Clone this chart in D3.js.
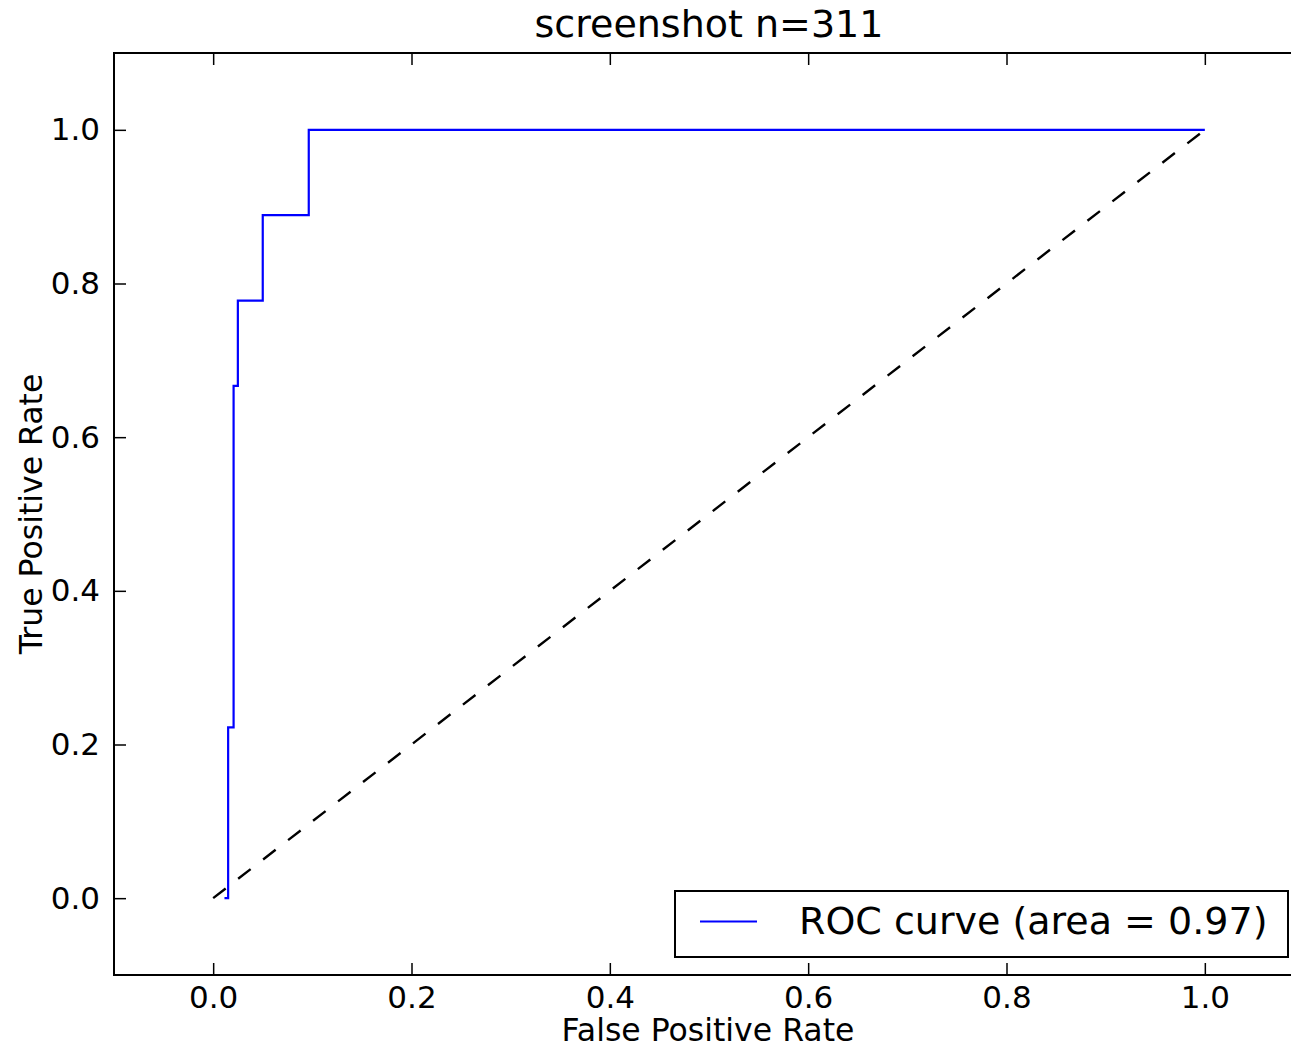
<!DOCTYPE html>
<html lang="en">
<head>
  <meta charset="UTF-8">
  <title>screenshot n=311</title>
  <script src="https://d3js.org/d3.v7.min.js"></script>
  <style>
    body { margin: 0; overflow: hidden; background: white; }
    text { font-family: 'DejaVu Sans', sans-serif; fill: #000; }
  </style>
</head>
<body>
<div id="chart"></div>
<script>
    // ROC points
    const fpr = [0.0114, 0.0151, 0.0151, 0.0206, 0.0206, 0.0249, 0.0249, 0.0500, 0.0500, 0.0964, 0.0964, 1.0];
    const tpr = [0.0, 0.0, 0.2222, 0.2222, 0.6667, 0.6667, 0.7778, 0.7778, 0.8889, 0.8889, 1.0, 1.0];
    const chanceX = [0, 1];
    const chanceY = [0, 1];
    const tickValues = [0.0, 0.2, 0.4, 0.6, 0.8, 1.0];
    const titleText = "screenshot n=311";
    const legendLabel = "ROC curve (area = 0.97)";

    const margin = { top: 53, right: 0, bottom: 72, left: 114 },
        width = 1190,
        height = 922;

    const root = d3.select("#chart")
        .append("svg")
        .attr("width", 1291)
        .attr("height", 1047);

    const svg = root.append("g")
        .attr("transform", `translate(${margin.left}, ${margin.top})`);

    const x = d3.scaleLinear().domain([-0.1, 1.1]).range([0, width]);
    const y = d3.scaleLinear().domain([-0.1, 1.1]).range([height, 0]);

    // chance diagonal
    const line = d3.line().x(d => x(d[0])).y(d => y(d[1]));
    svg.append("path")
        .datum(d3.zip(chanceX, chanceY))
        .attr("d", line)
        .attr("fill", "none")
        .attr("stroke", "#000")
        .attr("stroke-width", 2.4)
        .attr("stroke-dasharray", "15.8,15.8");

    // ROC curve
    svg.append("path")
        .datum(d3.zip(fpr, tpr))
        .attr("d", line)
        .attr("fill", "none")
        .attr("stroke", "#0000ff")
        .attr("stroke-width", 2.2);

    // axes, ticks inward on all four sides
    const styleAxis = g => {
        g.select(".domain").remove();
        g.selectAll(".tick line").attr("stroke", "#000").attr("stroke-width", 1.5);
        g.selectAll(".tick text").style("font-size", "31px").attr("fill", "#000");
    };

    svg.append("g")
        .attr("transform", `translate(0, ${height})`)
        .call(d3.axisBottom(x).tickValues(tickValues).tickSize(-12).tickPadding(11).tickFormat(d3.format(".1f")))
        .call(styleAxis);

    svg.append("g")
        .call(d3.axisLeft(y).tickValues(tickValues).tickSize(-12).tickPadding(14).tickFormat(d3.format(".1f")))
        .call(styleAxis);

    svg.append("g")
        .call(d3.axisTop(x).tickValues(tickValues).tickSize(-12).tickFormat(""))
        .call(styleAxis);

    svg.append("g")
        .attr("transform", `translate(${width}, 0)`)
        .call(d3.axisRight(y).tickValues(tickValues).tickSize(-12).tickFormat(""))
        .call(styleAxis);

    // frame
    svg.append("rect")
        .attr("width", width)
        .attr("height", height)
        .attr("fill", "none")
        .attr("stroke", "#000")
        .attr("stroke-width", 2);

    // title and axis labels
    svg.append("text")
        .attr("x", width / 2)
        .attr("y", -16)
        .style("text-anchor", "middle")
        .style("font-size", "38px")
        .text(titleText);

    svg.append("text")
        .attr("x", width / 2 - 1)
        .attr("y", height + 66)
        .style("text-anchor", "middle")
        .style("font-size", "31.5px")
        .text("False Positive Rate");

    svg.append("text")
        .attr("transform", `translate(${41.7 - margin.left}, ${height / 2}) rotate(-90)`)
        .style("text-anchor", "middle")
        .style("font-size", "31.5px")
        .text("True Positive Rate");

    // legend, lower right
    const legend = svg.append("g")
        .attr("transform", `translate(${width - 629}, ${height - 84})`);

    legend.append("rect")
        .attr("width", 613)
        .attr("height", 66)
        .attr("fill", "white")
        .attr("stroke", "#000")
        .attr("stroke-width", 2);

    legend.append("line")
        .attr("x1", 25).attr("x2", 82)
        .attr("y1", 30.5).attr("y2", 30.5)
        .attr("stroke", "#0000ff")
        .attr("stroke-width", 2.2);

    legend.append("text")
        .attr("x", 124)
        .attr("y", 43)
        .style("font-size", "38px")
        .text(legendLabel);
</script>
</body>
</html>
